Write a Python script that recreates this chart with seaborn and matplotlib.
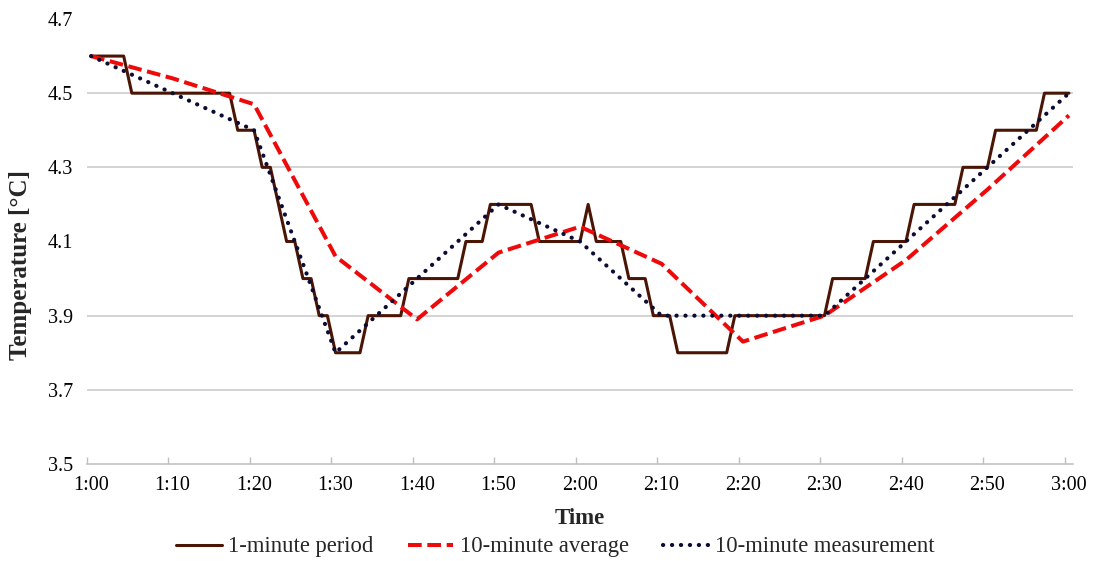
import matplotlib
matplotlib.use("Agg")
import matplotlib.pyplot as plt
import seaborn as sns
import pandas as pd

# ---- data ----
minutes = list(range(121))
one_minute = [
    4.6, 4.6, 4.6, 4.6, 4.6, 4.5, 4.5, 4.5, 4.5, 4.5,
    4.5, 4.5, 4.5, 4.5, 4.5, 4.5, 4.5, 4.5, 4.4, 4.4,
    4.4, 4.3, 4.3, 4.2, 4.1, 4.1, 4.0, 4.0, 3.9, 3.9,
    3.8, 3.8, 3.8, 3.8, 3.9, 3.9, 3.9, 3.9, 3.9, 4.0,
    4.0, 4.0, 4.0, 4.0, 4.0, 4.0, 4.1, 4.1, 4.1, 4.2,
    4.2, 4.2, 4.2, 4.2, 4.2, 4.1, 4.1, 4.1, 4.1, 4.1,
    4.1, 4.2, 4.1, 4.1, 4.1, 4.1, 4.0, 4.0, 4.0, 3.9,
    3.9, 3.9, 3.8, 3.8, 3.8, 3.8, 3.8, 3.8, 3.8, 3.9,
    3.9, 3.9, 3.9, 3.9, 3.9, 3.9, 3.9, 3.9, 3.9, 3.9,
    3.9, 4.0, 4.0, 4.0, 4.0, 4.0, 4.1, 4.1, 4.1, 4.1,
    4.1, 4.2, 4.2, 4.2, 4.2, 4.2, 4.2, 4.3, 4.3, 4.3,
    4.3, 4.4, 4.4, 4.4, 4.4, 4.4, 4.4, 4.5, 4.5, 4.5,
    4.5,
]
ten_min_times = [0, 10, 20, 30, 40, 50, 60, 70, 80, 90, 100, 110, 120]
ten_min_average = [4.60, 4.54, 4.47, 4.06, 3.89, 4.07, 4.14, 4.04, 3.83, 3.90, 4.05, 4.24, 4.44]
ten_min_measurement = [4.6, 4.5, 4.4, 3.8, 4.0, 4.2, 4.1, 3.9, 3.9, 3.9, 4.1, 4.3, 4.5]
tick_labels = ["1:00", "1:10", "1:20", "1:30", "1:40", "1:50", "2:00",
               "2:10", "2:20", "2:30", "2:40", "2:50", "3:00"]
y_ticks = [3.5, 3.7, 3.9, 4.1, 4.3, 4.5, 4.7]
series_names = ["1-minute period", "10-minute average", "10-minute measurement"]

df_1 = pd.DataFrame({"t": minutes, "v": one_minute})
df_avg = pd.DataFrame({"t": ten_min_times, "v": ten_min_average})
df_meas = pd.DataFrame({"t": ten_min_times, "v": ten_min_measurement})

sns.set_theme(style="white")
plt.rcParams["font.family"] = ["Liberation Serif", "DejaVu Serif"]

fig = plt.figure(figsize=(10.93, 5.61), dpi=100)
ax = fig.add_axes([87 / 1093, 1 - 464 / 561, 986 / 1093, 445 / 561])

sns.lineplot(data=df_1, x="t", y="v", ax=ax, color="#4a1505", linewidth=2.2,
             label=series_names[0], zorder=3)
sns.lineplot(data=df_avg, x="t", y="v", ax=ax, color="#ee0a0a", linewidth=2.9,
             linestyle=(0, (3.4, 1.4)), label=series_names[1], zorder=4)
sns.lineplot(data=df_meas, x="t", y="v", ax=ax, color="#0c0c33", linewidth=3.0,
             linestyle=(0, (0.05, 2.1)), dash_capstyle="round",
             label=series_names[2], zorder=5)

ax.set_xlim(-0.5, 120.5)
ax.set_ylim(3.5, 4.7)
ax.set_xticks(ten_min_times)
ax.set_xticklabels(tick_labels)
ax.set_xticks([t - 0.5 for t in ten_min_times], minor=True)
ax.set_yticks(y_ticks)
ax.set_yticklabels([f"{v:.1f}" for v in y_ticks])

ax.tick_params(axis="x", which="major", length=0, pad=9, labelsize=14.5, colors="black")
ax.tick_params(axis="x", which="minor", direction="in", length=5, width=1,
               color="#bfbfbf", bottom=True)
ax.tick_params(axis="y", length=0, pad=10, labelsize=14.5, colors="black")

ax.grid(axis="y", color="#c8c8c8", linewidth=1.1)
ax.grid(axis="x", visible=False)
for line, val in zip(ax.yaxis.get_gridlines(), y_ticks):
    if val in (4.1, 4.7, 3.5):
        line.set_visible(False)

for s in ["top", "right", "left"]:
    ax.spines[s].set_visible(False)
ax.spines["bottom"].set_color("#bfbfbf")
ax.spines["bottom"].set_linewidth(1.1)

ax.set_xlabel("Time", fontsize=16.5, fontweight="bold", labelpad=9)
ax.set_ylabel("Temperature [°C]", fontsize=18, fontweight="bold")
ax.yaxis.set_label_coords(-0.056, 0.447)

handles, labels = ax.get_legend_handles_labels()
ax.get_legend().remove()
fig.legend(handles, labels, loc="lower center", bbox_to_anchor=(0.508, -0.03),
           ncol=3, frameon=False, fontsize=16.3, handlelength=2.0,
           handletextpad=0.3, columnspacing=1.5)

fig.savefig("out.png", dpi=100, facecolor="white")
